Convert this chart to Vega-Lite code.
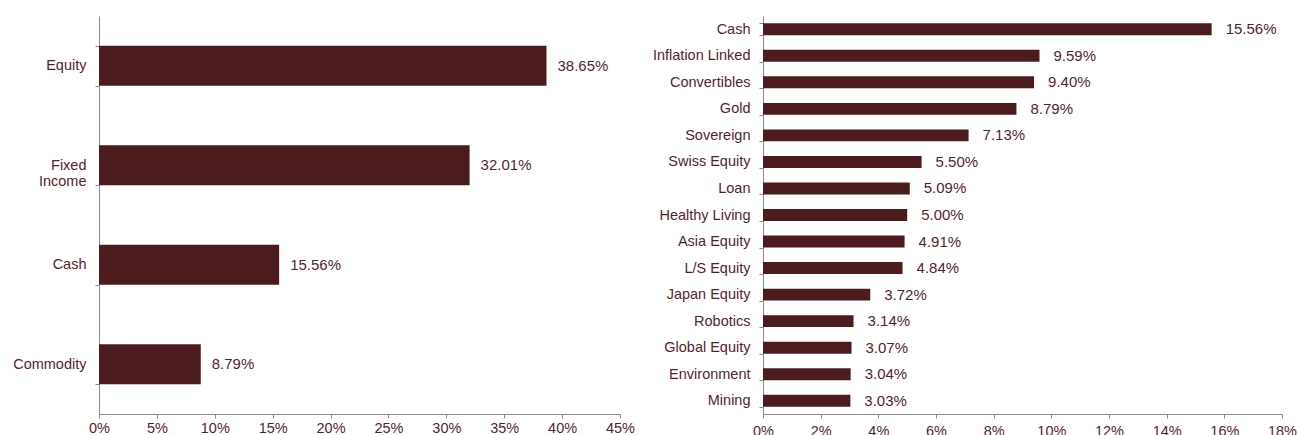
{
  "$schema": "https://vega.github.io/schema/vega-lite/v6.json",
  "padding": {"left": 12, "top": 8, "right": 5, "bottom": 0},
  "background": "white",
  "config": {
    "view": {"stroke": null},
    "font": "Liberation Sans",
    "axis": {
      "domainColor": "#8a8a8a",
      "tickColor": "#8a8a8a",
      "labelColor": "#561f2e",
      "labelFont": "Liberation Sans",
      "labelFontSize": 14.5,
      "grid": false,
      "title": null,
      "tickSize": 4
    }
  },
  "datasets": {
    "classes": [
      {"name": "Equity", "value": 0.3865},
      {"name": "Fixed Income", "value": 0.3201},
      {"name": "Cash", "value": 0.1556},
      {"name": "Commodity", "value": 0.0879}
    ],
    "funds": [
      {"name": "Cash", "value": 0.1556},
      {"name": "Inflation Linked", "value": 0.0959},
      {"name": "Convertibles", "value": 0.094},
      {"name": "Gold", "value": 0.0879},
      {"name": "Sovereign", "value": 0.0713},
      {"name": "Swiss Equity", "value": 0.055},
      {"name": "Loan", "value": 0.0509},
      {"name": "Healthy Living", "value": 0.05},
      {"name": "Asia Equity", "value": 0.0491},
      {"name": "L/S Equity", "value": 0.0484},
      {"name": "Japan Equity", "value": 0.0372},
      {"name": "Robotics", "value": 0.0314},
      {"name": "Global Equity", "value": 0.0307},
      {"name": "Environment", "value": 0.0304},
      {"name": "Mining", "value": 0.0303}
    ]
  },
  "bounds": "flush",
  "spacing": 143,
  "hconcat": [
    {
      "width": 521,
      "height": 398,
      "data": {"name": "classes"},
      "encoding": {
        "y": {
          "field": "name",
          "type": "nominal",
          "sort": null,
          "scale": {"paddingInner": 0.6, "paddingOuter": 0.3},
          "axis": {
            "tickBand": "extent",
            "labelPadding": 9,
            "labelExpr": "datum.label == 'Fixed Income' ? ['Fixed', 'Income'] : datum.label"
          }
        },
        "x": {
          "field": "value",
          "type": "quantitative",
          "scale": {"domain": [0, 0.45]},
          "axis": {"format": ".0%", "values": [0, 0.05, 0.1, 0.15, 0.2, 0.25, 0.3, 0.35, 0.4, 0.45], "labelPadding": 3, "labelFlush": false}
        }
      },
      "layer": [
        {"mark": {"type": "bar", "color": "#4b1b1e"}},
        {
          "mark": {"type": "text", "align": "left", "dx": 11, "fontSize": 15, "color": "#561f2e"},
          "encoding": {"text": {"field": "value", "format": ".2%"}}
        }
      ]
    },
    {
      "width": 519,
      "height": 398,
      "data": {"name": "funds"},
      "encoding": {
        "y": {
          "field": "name",
          "type": "nominal",
          "sort": null,
          "scale": {"paddingInner": 0.55, "paddingOuter": 0.275},
          "axis": {"tickBand": "extent", "labelPadding": 9}
        },
        "x": {
          "field": "value",
          "type": "quantitative",
          "scale": {"domain": [0, 0.18]},
          "axis": {"format": ".0%", "values": [0, 0.02, 0.04, 0.06, 0.08, 0.1, 0.12, 0.14, 0.16, 0.18], "labelPadding": 6, "labelFlush": false}
        }
      },
      "layer": [
        {"mark": {"type": "bar", "color": "#4b1b1e"}},
        {
          "mark": {"type": "text", "align": "left", "dx": 14, "fontSize": 15, "color": "#561f2e"},
          "encoding": {"text": {"field": "value", "format": ".2%"}}
        }
      ]
    }
  ]
}
